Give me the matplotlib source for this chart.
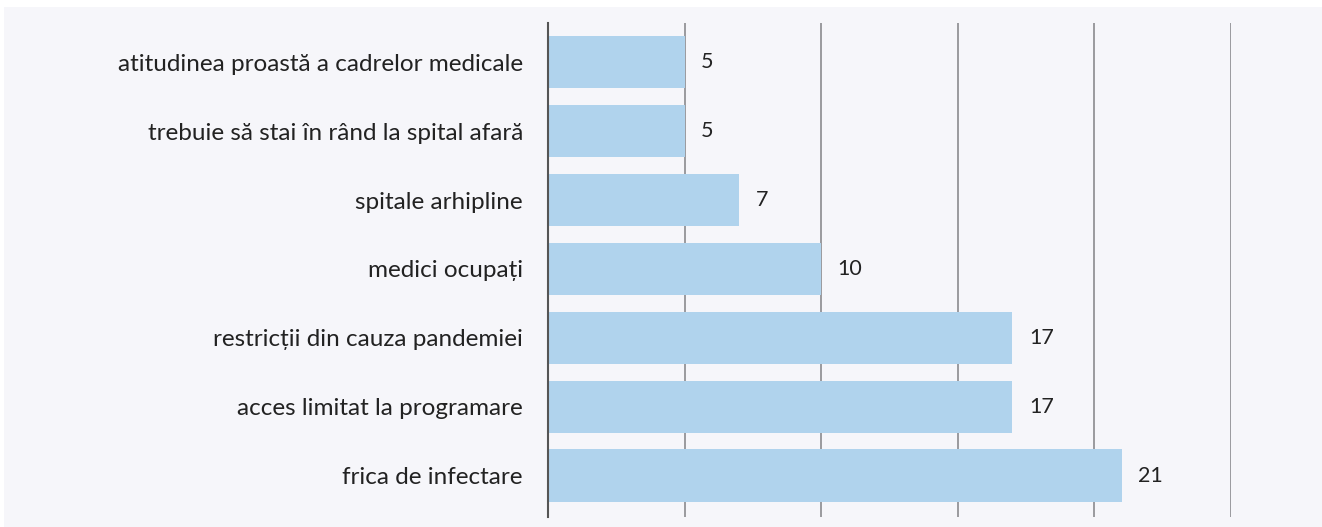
import matplotlib.pyplot as plt
from matplotlib.patches import Rectangle

# Data (top to bottom in the picture)
categories = [
    "atitudinea proastă a cadrelor medicale",
    "trebuie să stai în rând la spital afară",
    "spitale arhipline",
    "medici ocupați",
    "restricții din cauza pandemiei",
    "acces limitat la programare",
    "frica de infectare",
]
values = [5, 5, 7, 10, 17, 17, 21]

plt.rcParams['font.family'] = ['Lato', 'DejaVu Sans']

fig = plt.figure(figsize=(13.22, 5.27), dpi=100, facecolor="white")
# light panel behind the chart
fig.patches.append(Rectangle((4 / 1322, 0), 1, 1 - 7 / 527, transform=fig.transFigure,
                             facecolor="#f6f6fa", edgecolor="none", zorder=-10))

ax = fig.add_axes([548 / 1322, 10 / 527, 683 / 1322, 494 / 527])
ax.set_facecolor("none")

ypos = list(range(len(categories)))
ax.barh(ypos, values, height=0.76, color="#b0d3ed", zorder=2)
for y, v in zip(ypos, values):
    ax.text(v + 0.6, y, str(v), va="center", ha="left", fontsize=15.5, color="#222222")

ax.set_yticks(ypos)
ax.set_yticklabels(categories, fontsize=17.5, color="#222222")
ax.set_ylim(len(categories) - 0.4, -0.57)
ax.set_xlim(0, 25)
ax.set_xticks([5, 10, 15, 20, 25])
ax.set_xticklabels([])
ax.tick_params(axis="both", length=0, pad=22)
ax.tick_params(axis="y", pad=18)
ax.grid(axis="x", color="#9a9a9e", linewidth=1.4, zorder=1)

for s in ["top", "right", "bottom"]:
    ax.spines[s].set_visible(False)
ax.spines["left"].set_color("#555555")
ax.spines["left"].set_linewidth(1.5)
ax.spines["left"].set_zorder(3)

fig.savefig("out.png", dpi=100)
